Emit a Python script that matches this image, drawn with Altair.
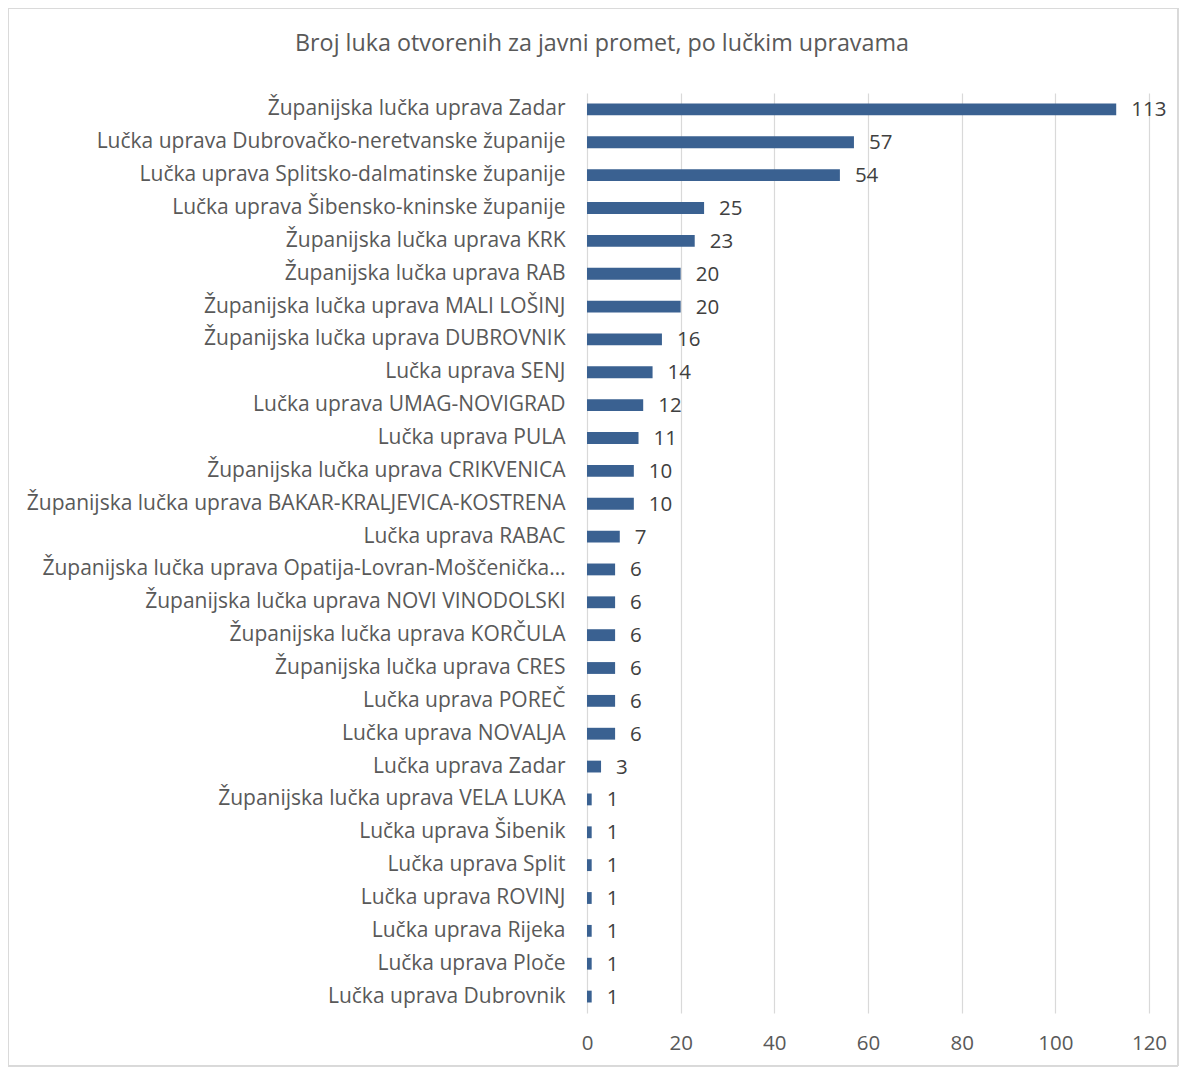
import altair as alt
import pandas as pd

categories = [
    "Županijska lučka uprava Zadar",
    "Lučka uprava Dubrovačko-neretvanske županije",
    "Lučka uprava Splitsko-dalmatinske županije",
    "Lučka uprava Šibensko-kninske županije",
    "Županijska lučka uprava KRK",
    "Županijska lučka uprava RAB",
    "Županijska lučka uprava MALI LOŠINJ",
    "Županijska lučka uprava DUBROVNIK",
    "Lučka uprava SENJ",
    "Lučka uprava UMAG-NOVIGRAD",
    "Lučka uprava PULA",
    "Županijska lučka uprava CRIKVENICA",
    "Županijska lučka uprava BAKAR-KRALJEVICA-KOSTRENA",
    "Lučka uprava RABAC",
    "Županijska lučka uprava Opatija-Lovran-Moščenička…",
    "Županijska lučka uprava NOVI VINODOLSKI",
    "Županijska lučka uprava KORČULA",
    "Županijska lučka uprava CRES",
    "Lučka uprava POREČ",
    "Lučka uprava NOVALJA",
    "Lučka uprava Zadar",
    "Županijska lučka uprava VELA LUKA",
    "Lučka uprava Šibenik",
    "Lučka uprava Split",
    "Lučka uprava ROVINJ",
    "Lučka uprava Rijeka",
    "Lučka uprava Ploče",
    "Lučka uprava Dubrovnik",
]
values = [113, 57, 54, 25, 23, 20, 20, 16, 14, 12, 11, 10, 10, 7, 6, 6, 6, 6, 6, 6, 3, 1, 1, 1, 1, 1, 1, 1]
x_ticks = [0, 20, 40, 60, 80, 100, 120]

df = pd.DataFrame({"cat": categories, "val": values})

FONT = "Open Sans"
TXT = "#595959"

y_enc = alt.Y("cat:N", sort=categories, title=None,
              scale=alt.Scale(paddingInner=0.64, paddingOuter=0.32),
              axis=alt.Axis(labelLimit=0, labelPadding=22, ticks=False, domain=False,
                            labelFont=FONT, labelFontSize=21, labelColor=TXT, grid=False))
x_enc = alt.X("val:Q", title=None,
              scale=alt.Scale(domain=[0, 120], nice=False),
              axis=alt.Axis(values=x_ticks, ticks=False, domain=False, grid=True,
                            gridColor="#D9D9D9", gridWidth=1.2, labelPadding=20,
                            labelFlush=False,
                            labelFont=FONT, labelFontSize=20.5, labelColor=TXT))

bars = alt.Chart(df).mark_bar(color="#3A6191").encode(x=x_enc, y=y_enc)
labels = alt.Chart(df).mark_text(align="left", baseline="middle", dx=15, dy=1,
                                 font=FONT, fontSize=20.5, color="#404040").encode(
    x="val:Q", y=alt.Y("cat:N", sort=categories), text="val:Q")

border = alt.Chart(df).mark_rect(fill=None, stroke="#D9D9D9", strokeWidth=1).encode(
    x=alt.value(-579), x2=alt.value(591), y=alt.value(-85), y2=alt.value(973))

chart = alt.layer(bars, labels, border).properties(
    width=562, height=920,
    title=alt.TitleParams("Broj luka otvorenih za javni promet, po lučkim upravama",
                          font=FONT, fontSize=23.3, fontWeight="normal", color=TXT,
                          frame="group", baseline="alphabetic", offset=-67, dx=-266),
    autosize=alt.AutoSizeParams(type="none"),
    padding={"left": 579, "top": 85, "right": 30, "bottom": 60},
).configure_view(stroke=None)

chart.save("out.html", embed_options={"renderer": "svg", "actions": False})
